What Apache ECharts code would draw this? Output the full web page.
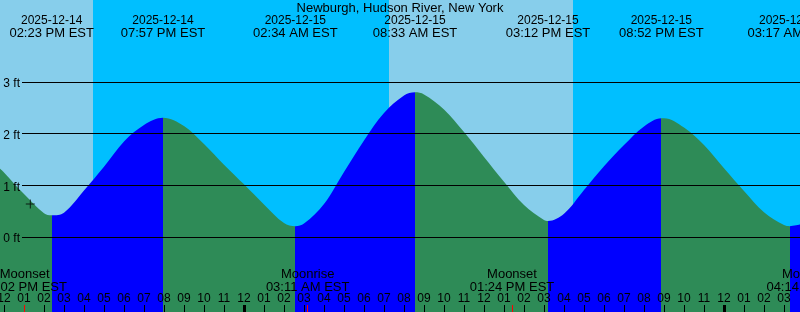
<!DOCTYPE html>
<html>
<head>
<meta charset="utf-8">
<script src="https://cdn.jsdelivr.net/npm/echarts@6/dist/echarts.min.js"></script>
<style>
html,body{margin:0;padding:0;background:#00BFFF;}
#chart{width:800px;height:312px;}
</style>
</head>
<body>
<div id="chart"></div>
<script>
// ---------------- DATA ----------------
const stationName = 'Newburgh, Hudson River, New York';

// Tide extremes (labels at the top)
const tideEventDates = ['2025-12-14', '2025-12-14', '2025-12-15', '2025-12-15', '2025-12-15', '2025-12-15', '2025-12-16'];
const tideEventTimes = ['02:23 PM EST', '07:57 PM EST', '02:34 AM EST', '08:33 AM EST', '03:12 PM EST', '08:52 PM EST', '03:17 AM EST'];
const tideEventTypes = ['L', 'H', 'L', 'H', 'L', 'H', 'L'];

// Moon events (labels near the bottom)
const moonEventNames = ['Moonset', 'Moonrise', 'Moonset', 'Moonrise'];
const moonEventDates = ['2025-12-14', '2025-12-15', '2025-12-15', '2025-12-16'];
const moonEventTimes = ['01:02 PM EST', '03:11 AM EST', '01:24 PM EST', '04:14 AM EST'];

// Sunset / sunrise (day = light sky, night = deep sky)
const sunEventDates = ['2025-12-14', '2025-12-15', '2025-12-15'];
const sunEventTimes = ['04:27 PM EST', '07:15 AM EST', '04:27 PM EST'];
const sunEventTypes = ['set', 'rise', 'set'];

// Tide curve: hours relative to 2025-12-15 00:00 EST, height in ft
const tideHours = [-12.2, -12, -11, -10, -9.617, -9, -8, -7, -6, -5, -4.05, -3, -2, -1, 0, 1, 2, 2.567,
  3, 4, 5, 6, 7, 8, 8.55, 9, 10, 11, 12, 13, 14, 15, 15.2, 16, 17, 18, 19, 20, 20.867,
  21, 22, 23, 24, 25, 26, 27, 27.283, 27.8];
const tideFeet = [1.32, 1.25, 0.83, 0.46, 0.42, 0.47, 0.90, 1.36, 1.85, 2.17, 2.31, 2.15, 1.80, 1.40, 1.02, 0.63, 0.27, 0.21,
  0.26, 0.64, 1.26, 1.87, 2.40, 2.74, 2.80, 2.76, 2.47, 2.03, 1.55, 1.07, 0.62, 0.33, 0.31, 0.45, 0.91, 1.37, 1.78, 2.14, 2.30,
  2.30, 2.12, 1.78, 1.33, 0.89, 0.48, 0.23, 0.21, 0.24];

// "+" marker on the curve
const markHour = [-10.685];
const markFeet = [0.64];

// Axis tick values
const hourTicks = [-12, -11, -10, -9, -8, -7, -6, -5, -4, -3, -2, -1, 0, 1, 2, 3, 4, 5, 6, 7, 8, 9, 10, 11,
  12, 13, 14, 15, 16, 17, 18, 19, 20, 21, 22, 23, 24, 25, 26, 27];
const midnightTicks = [0, 24];
const feetTicks = [0, 1, 2, 3];

// ---------------- helpers ----------------
function toHour(date, time) {
  const day = parseInt(date.slice(8, 10), 10);
  let h = parseInt(time.slice(0, 2), 10) % 12;
  const m = parseInt(time.slice(3, 5), 10);
  if (time.indexOf('PM') >= 0) h += 12;
  return (day - 15) * 24 + h + m / 60;
}
const tideEventHours = tideEventDates.map((d, i) => toHour(d, tideEventTimes[i]));
const moonEventHours = moonEventDates.map((d, i) => toHour(d, moonEventTimes[i]));
const sunEventHours = sunEventDates.map((d, i) => toHour(d, sunEventTimes[i]));

const START = -12.2, END = 27.8;
const C_DAY = '#87CEEB', C_NIGHT = '#00BFFF', C_RISE = '#0000FF', C_FALL = '#2E8B57';
const FONT = '"Liberation Sans", Arial, Helvetica, sans-serif';

// layout: 0 ft at y=237, 3 ft at y=82, canvas 312 high
const GRID_TOP = 82, GRID_BOTTOM = 75, H = 312;
const pxPerFt = (H - GRID_TOP - GRID_BOTTOM) / 3;
const yMin0 = -GRID_BOTTOM / pxPerFt;
const yMax0 = (H - GRID_BOTTOM) / pxPerFt;

// day/night bands
const bands = [];
let prev = START;
let prevIsDay = sunEventTypes[0] === 'set';
sunEventHours.forEach((h, i) => {
  bands.push([{ xAxis: prev, itemStyle: { color: prevIsDay ? C_DAY : C_NIGHT, opacity: 1 } }, { xAxis: h }]);
  prev = h;
  prevIsDay = sunEventTypes[i] === 'rise';
});
bands.push([{ xAxis: prev, itemStyle: { color: prevIsDay ? C_DAY : C_NIGHT, opacity: 1 } }, { xAxis: END }]);

// rising / falling pieces
const pieces = [];
pieces.push({ lt: tideEventHours[0], color: tideEventTypes[0] === 'L' ? C_FALL : C_RISE });
for (let i = 0; i < tideEventHours.length - 1; i++) {
  pieces.push({ gte: tideEventHours[i], lt: tideEventHours[i + 1], color: tideEventTypes[i] === 'L' ? C_RISE : C_FALL });
}
const last = tideEventHours.length - 1;
pieces.push({ gte: tideEventHours[last], color: tideEventTypes[last] === 'L' ? C_RISE : C_FALL });

function hourLabel(v) {
  const h = ((Math.round(v) % 24) + 24) % 24;
  const h12 = h % 12 === 0 ? 12 : h % 12;
  return (h12 < 10 ? '0' : '') + h12;
}
function findIdx(arr, v) {
  let best = -1, bd = 1e9;
  arr.forEach((a, i) => { const d = Math.abs(a - v); if (d < bd) { bd = d; best = i; } });
  return bd < 1e-3 ? best : -1;
}

const noLine = { show: false, onZero: false };
const richText = {
  d: { fontSize: 12, lineHeight: 13, color: '#000', fontFamily: FONT },
  t: { fontSize: 13, lineHeight: 13, color: '#000', fontFamily: FONT }
};

const chart = echarts.init(document.getElementById('chart'), null, { renderer: 'canvas' });
const option = {
  animation: false,
  backgroundColor: C_NIGHT,
  textStyle: { fontFamily: FONT },
  title: {
    text: stationName, left: 'center', top: 0, padding: [2, 0, 0, 0],
    textStyle: { fontSize: 13, fontWeight: 'normal', color: '#000', fontFamily: FONT }
  },
  grid: [
    { left: 0, right: 0, top: 0, bottom: 0, outerBoundsMode: 'none' },
    { left: 22, right: 0, top: GRID_TOP, bottom: GRID_BOTTOM, outerBoundsMode: 'none' },
    { left: 0, width: 820, top: 0, bottom: 0, outerBoundsMode: 'none' }
  ],
  xAxis: [
    { // 0: hour ticks / labels
      gridIndex: 0, type: 'value', min: START, max: END, position: 'bottom', z: 10,
      axisLine: noLine, splitLine: { show: false },
      axisTick: { show: true, inside: true, length: 7, customValues: hourTicks, lineStyle: { color: '#000', width: 1 } },
      axisLabel: { show: true, inside: true, margin: 7, customValues: hourTicks, formatter: hourLabel,
        fontSize: 12, color: '#000', fontFamily: FONT }
    },
    { // 1: grid for ft lines
      gridIndex: 1, type: 'value', min: 0, max: 1, show: false,
      axisLine: noLine, axisTick: { show: false }, axisLabel: { show: false }, splitLine: { show: false }
    },
    { // 2: tide events at top
      gridIndex: 0, type: 'value', min: START, max: END, position: 'top', offset: -42, z: 10,
      axisLine: noLine, axisTick: { show: false }, splitLine: { show: false },
      axisLabel: { show: true, margin: 2, customValues: tideEventHours,
        formatter: function (v) { const i = findIdx(tideEventHours, v); return i < 0 ? '' : '{d|' + tideEventDates[i] + '}\n{t|' + tideEventTimes[i] + '}'; },
        rich: richText, fontSize: 13, lineHeight: 13, color: '#000', fontFamily: FONT }
    },
    { // 3: moon event labels (wider grid so the last label can run past the edge)
      gridIndex: 2, type: 'value', min: START, max: END + 1, position: 'bottom', offset: -46, z: 10,
      axisLine: noLine, axisTick: { show: false }, splitLine: { show: false },
      axisLabel: { show: true, margin: 2, customValues: moonEventHours,
        formatter: function (v) { const i = findIdx(moonEventHours, v); return i < 0 ? '' : '{t|' + moonEventNames[i] + '}\n{t|' + moonEventTimes[i] + '}'; },
        rich: richText, fontSize: 13, lineHeight: 13, color: '#000', fontFamily: FONT }
    },
    { // 4: red moon ticks
      gridIndex: 0, type: 'value', min: START, max: END, position: 'bottom', offset: 0, z: 11,
      axisLine: noLine, splitLine: { show: false }, axisLabel: { show: false },
      axisTick: { show: true, inside: true, length: 7, customValues: moonEventHours, lineStyle: { color: '#FF0000', width: 1 } }
    },
    { // 5: midnight ticks
      gridIndex: 0, type: 'value', min: START, max: END, position: 'bottom', offset: 0, z: 11,
      axisLine: noLine, splitLine: { show: false }, axisLabel: { show: false },
      axisTick: { show: true, inside: true, length: 7, customValues: midnightTicks, lineStyle: { color: '#000', width: 3 } }
    }
  ],
  yAxis: [
    { gridIndex: 0, type: 'value', min: yMin0, max: yMax0, show: false,
      axisLine: noLine, axisTick: { show: false }, axisLabel: { show: false }, splitLine: { show: false } },
    {
      gridIndex: 1, type: 'value', min: 0, max: 3, interval: 1, z: 10,
      axisLine: noLine, axisTick: { show: false },
      splitLine: { show: true, showMinLine: true, showMaxLine: true, lineStyle: { color: '#000', width: 1 } },
      axisLabel: { show: true, margin: 2, formatter: function (v) { return '{a|' + v + ' ft}'; },
        rich: { a: { fontSize: 12, color: '#000', fontFamily: FONT, padding: [4, 0, 0, 0] } },
        fontSize: 12, color: '#000', fontFamily: FONT }
    },
    { gridIndex: 2, type: 'value', min: 0, max: 1, show: false,
      axisLine: noLine, axisTick: { show: false }, axisLabel: { show: false }, splitLine: { show: false } }
  ],
  visualMap: {
    type: 'piecewise', show: false, dimension: 0, seriesIndex: 0, pieces: pieces
  },
  series: [
    {
      name: 'Tide', type: 'line', xAxisIndex: 0, yAxisIndex: 0, z: 2,
      data: tideHours.map((h, i) => [h, tideFeet[i]]),
      smooth: 0.35, showSymbol: false, symbol: 'none',
      lineStyle: { width: 0 },
      areaStyle: { opacity: 1, origin: 'start' },
      markArea: { silent: true, z: 1, data: bands }
    },
    {
      name: 'Mark', type: 'scatter', xAxisIndex: 0, yAxisIndex: 0, z: 5,
      data: markHour.map((h, i) => [h, markFeet[i]]),
      symbol: 'path://M0,4H9V5H0ZM4,0H5V9H4Z', symbolSize: 9,
      itemStyle: { color: '#000' }
    }
  ]
};
chart.setOption(option);
</script>
</body>
</html>
